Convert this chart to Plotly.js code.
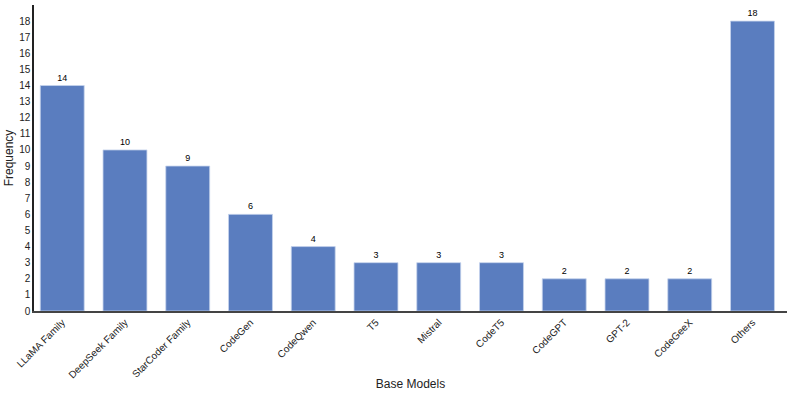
<!DOCTYPE html>
<html>
<head>
<meta charset="utf-8">
<script src="https://cdn.plot.ly/plotly-3.0.1.min.js"></script>
<style>body{margin:0;background:#fff}#grafico{width:793px;height:393px}</style>
</head>
<body>
<div id="grafico"></div>
<script>
// Categorias e frequências
let modelos = ["LLaMA Family","DeepSeek Family","StarCoder Family","CodeGen","CodeQwen","T5","Mistral","CodeT5","CodeGPT","GPT-2","CodeGeeX","Others"]
let frequencia = [14,10,9,6,4,3,3,3,2,2,2,18]
let ticksY = [0,1,2,3,4,5,6,7,8,9,10,11,12,13,14,15,16,17,18]

let barras = {
    x: modelos,
    y: frequencia,
    type: 'bar',
    text: frequencia.map(String),
    textposition: 'outside',
    cliponaxis: false,
    textfont: {size: 9, color: '#000'},
    marker: {color: '#5a7dbf', line: {color: '#c5d3ec', width: 0.8}},
    hoverinfo: 'x+y'
}

let layout = {
    width: 793,
    height: 393,
    margin: {l: 34, r: 6, t: 5, b: 82},
    paper_bgcolor: '#fff',
    plot_bgcolor: '#fff',
    font: {family: 'Liberation Sans, Arial, sans-serif', color: '#222'},
    bargap: 0.3,
    showlegend: false,
    xaxis: {
        title: {text: 'Base Models', font: {size: 12}, standoff: 0},
        range: [-0.45, 11.55],
        tickangle: -45,
        tickfont: {size: 10},
        showline: true,
        linecolor: '#444',
        linewidth: 1.5,
        ticks: '',
        showgrid: false,
        automargin: false
    },
    yaxis: {
        title: {text: 'Frequency', font: {size: 12}, standoff: 3},
        range: [0, 19],
        tickvals: ticksY,
        tickfont: {size: 10},
        showline: true,
        linecolor: '#222',
        linewidth: 1.5,
        ticks: '',
        showgrid: false,
        zeroline: false,
        automargin: false
    }
}

Plotly.newPlot(document.getElementById("grafico"), [barras], layout, {displayModeBar: false})
</script>
</body>
</html>
